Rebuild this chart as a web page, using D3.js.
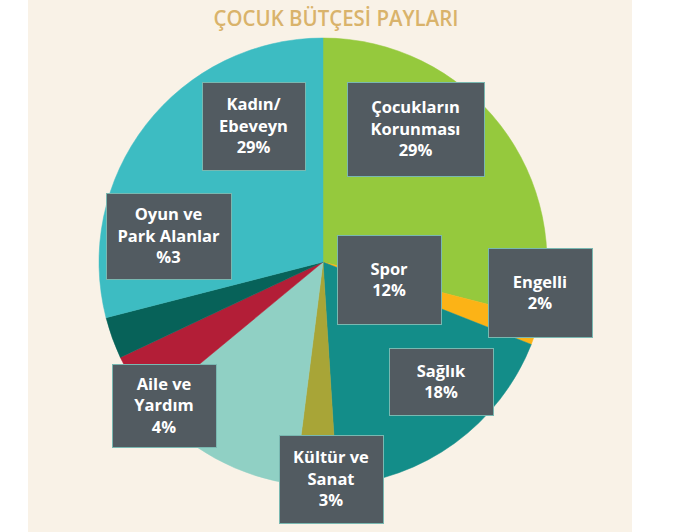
<!DOCTYPE html>
<html>
<head>
<meta charset="utf-8">
<script src="https://cdn.jsdelivr.net/npm/d3@7"></script>
<style>
  body { margin: 0; background: #ffffff; }
  svg { display: block; }
</style>
</head>
<body>
<div id="chart"></div>
<script>
// Data (clockwise from 12 o'clock)
const categories = ["Çocukların Korunması", "Engelli", "Sağlık", "Kültür ve Sanat", "Spor", "Aile ve Yardım", "Oyun ve Park Alanlar", "Kadın/Ebeveyn"];
const shares = [29, 2, 18, 3, 12, 4, 3, 29];
const labelLines = [
	["Çocukların", "Korunması", "29%"],
	["Engelli", "2%"],
	["Sağlık", "18%"],
	["Kültür ve", "Sanat", "3%"],
	["Spor", "12%"],
	["Aile ve", "Yardım", "4%"],
	["Oyun ve", "Park Alanlar", "%3"],
	["Kadın/", "Ebeveyn", "29%"]
];
const colors = ["#95c93d", "#fcb316", "#138d89", "#a8a537", "#90d0c4", "#b31e37", "#076259", "#3dbcc2"];

// label box layout (x, y, w, h), same order as categories
const boxLayout = [
	[347, 82, 137, 94],
	[488, 248, 104, 89],
	[389, 348, 104, 67],
	[279, 435, 104, 88],
	[337, 235, 104, 89],
	[112, 364, 104, 83],
	[106, 193, 125, 86],
	[202, 82, 103, 88]
];

const width = 673, height = 532;
const cx = 323, cy = 262, radius = 224;

const svg = d3.select("#chart")
	.append("svg")
	.attr("width", width)
	.attr("height", height);

// cream panel
svg.append("rect")
	.attr("x", 28)
	.attr("y", 0)
	.attr("width", 604)
	.attr("height", height)
	.attr("fill", "#f9f2e7");

svg.append("text")
	.attr("x", 336)
	.attr("y", 26)
	.attr("text-anchor", "middle")
	.attr("fill", "#d9b36b")
	.style("font", "600 22px 'Open Sans', sans-serif")
	.attr("textLength", 245)
	.attr("lengthAdjust", "spacingAndGlyphs")
	.text("ÇOCUK BÜTÇESİ PAYLARI");

const color = d3.scaleOrdinal()
	.domain(categories)
	.range(colors);

const pie = d3.pie()
	.sort(null)
	.value(d => d.value);

const arc = d3.arc()
	.innerRadius(0)
	.outerRadius(radius);

const data = categories.map((c, i) => ({ name: c, value: shares[i], lines: labelLines[i], box: boxLayout[i] }));

svg.append("g")
	.attr("transform", `translate(${cx},${cy})`)
	.selectAll("path")
	.data(pie(data))
	.enter()
	.append("path")
	.attr("d", arc)
	.attr("fill", d => color(d.data.name))
	.attr("stroke", d => color(d.data.name))
	.attr("stroke-width", 0.5);

// label boxes
const lineH = 21.5;
const labels = svg.append("g")
	.selectAll("g")
	.data(data)
	.enter()
	.append("g");

labels.append("rect")
	.attr("x", d => d.box[0] + 0.5)
	.attr("y", d => d.box[1] + 0.5)
	.attr("width", d => d.box[2])
	.attr("height", d => d.box[3])
	.attr("fill", "#525b61")
	.attr("stroke", "#79b8b1")
	.attr("stroke-width", 1);

labels.append("text")
	.attr("text-anchor", "middle")
	.attr("fill", "#ffffff")
	.style("font", "700 16.5px 'Open Sans', sans-serif")
	.each(function(d) {
		const mid = d.box[1] + d.box[3] / 2;
		const x = d.box[0] + d.box[2] / 2;
		const n = d.lines.length;
		d3.select(this).selectAll("tspan")
			.data(d.lines)
			.enter()
			.append("tspan")
			.attr("x", x)
			.attr("y", (l, i) => mid + (i - (n - 1) / 2) * lineH)
			.attr("dy", "0.35em")
			.text(l => l);
	});
</script>
</body>
</html>
